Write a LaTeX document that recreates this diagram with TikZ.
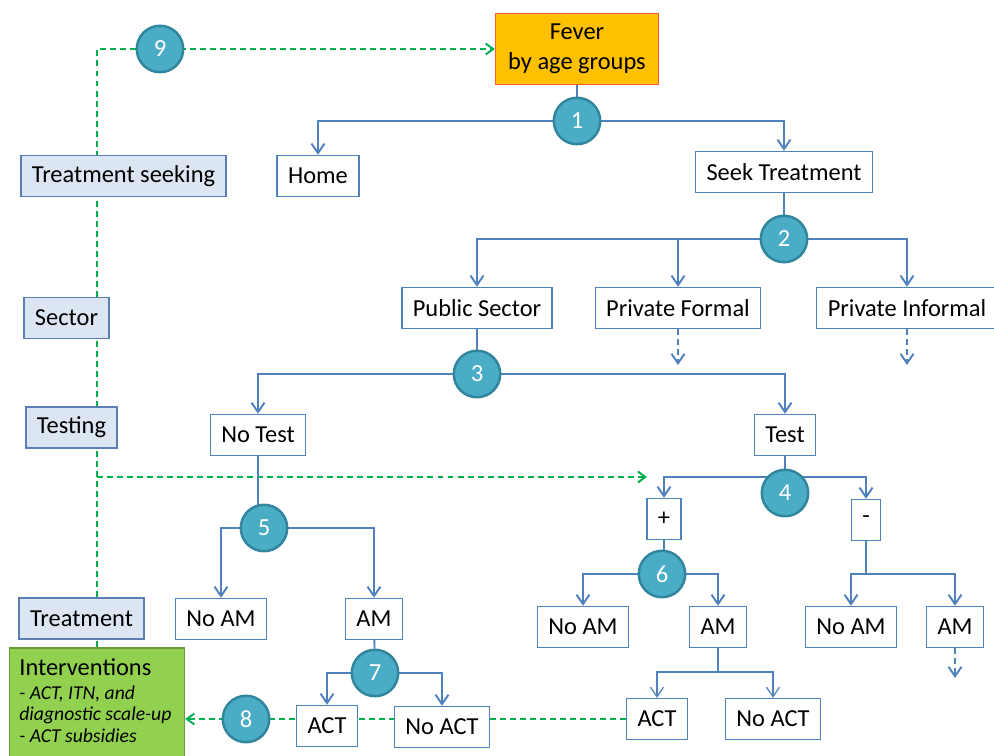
\documentclass[tikz,border=0pt]{standalone}
\usepackage{fontspec}
\setmainfont{Carlito}
\usetikzlibrary{arrows.meta,backgrounds}
\definecolor{LineBlue}{HTML}{4F81BD}
\definecolor{LabelFill}{HTML}{DCE6F2}
\definecolor{LabelEdge}{HTML}{5B7FB5}
\definecolor{NumFill}{HTML}{4BACC6}
\definecolor{NumEdge}{HTML}{31859C}
\definecolor{FeedGreen}{HTML}{00B050}
\definecolor{FeverFill}{HTML}{FFC000}
\definecolor{FeverEdge}{HTML}{FF5B2E}
\definecolor{IntFill}{HTML}{92D050}
\definecolor{IntEdge}{HTML}{6E9A3C}
\tikzset{
  box/.style={draw=LineBlue, line width=0.8pt, fill=white, minimum height=0.82cm,
    inner xsep=0.22cm, font=\fontsize{13.9}{16}\selectfont},
  level/.style={box, draw=LabelEdge, fill=LabelFill},
  num/.style={circle, draw=NumEdge, fill=NumFill, line width=1.4pt, minimum size=0.93cm,
    inner sep=0pt, text=white, font=\fontsize{14}{16}\selectfont},
  link/.style={draw=LineBlue, line width=1.1pt},
  flow/.style={link, -{Straight Barb[length=1.9mm,width=2.6mm]}},
  open/.style={flow, dash pattern=on 3.4pt off 2.3pt},
  feedback/.style={draw=FeedGreen, line width=1.1pt, dash pattern=on 3.4pt off 2.3pt,
    -{Straight Barb[length=1.5mm,width=2.2mm]}}
}
\begin{document}
\begin{tikzpicture}[x=0.02cm, y=-0.02cm]
	\useasboundingbox (0,0) rectangle (994,756);
	\node[box, draw=FeverEdge, fill=FeverFill, align=center, minimum width=3.26cm,
	  minimum height=1.42cm, font=\fontsize{13.9}{17}\selectfont] (fever) at (577,49) {Fever\\by age groups};
	\node[draw=IntEdge, line width=0.8pt, fill=IntFill, minimum width=3.5cm, minimum height=2.84cm] (interv) at (97,719) {};
	\node[anchor=north west, align=left, inner sep=0pt] (interv-text) at (19,658)
	  {{\fontsize{13.9}{13}\selectfont Interventions}\\[2pt]
	   \fontsize{11.2}{13.6}\selectfont\itshape - ACT, ITN, and\\
	   \fontsize{11.2}{13.6}\selectfont\itshape diagnostic scale-up\\
	   \fontsize{11.2}{13.6}\selectfont\itshape - ACT subsidies};
	\foreach \name/\X/\Y/\txt in {ts/123.5/176/Treatment seeking, sec/66.5/318/Sector,
	  tst/71.5/427.5/Testing, trt/81.5/618.5/Treatment}
	{\node[level] (\name) at (\X,\Y) {\txt};}
	\foreach \name/\X/\Y/\txt in {home/318/176/Home, seek/784/172/Seek Treatment,
	  pub/477/308/Public Sector, pform/678/308/Private Formal, pinf/907/308/Private Informal,
	  notest/258/435/No Test, test/785/435/Test, plus/664/519/+, minus/866/520/-,
	  noam1/221/619/No AM, am1/374/619/AM, noam2/583/627/No AM, am2/718/627/AM,
	  noam3/851/627/No AM, am3/955/627/AM, act1/327/726/ACT, noact1/442/727/No ACT,
	  act2/657/719/ACT, noact2/773/719/No ACT}
	{\node[box] (\name) at (\X,\Y) {\txt};}
	\foreach \X/\Y [count=\Z] in {577/121, 784/239, 477/374, 785/493, 264/528, 662/574,
	  375/673, 246/719, 160/49}
	{\node[num] (n\Z) at (\X,\Y) {\Z};}
	\coordinate (j4) at (785,477);
	\coordinate (j6) at (718,672);
	\coordinate (j7) at (866,574);
	\coordinate (pform-end) at (678,365);
	\coordinate (pinf-end) at (907,365);
	\coordinate (am3-end) at (955,678);
	\coordinate (g1) at (97,477);
	\coordinate (g2) at (647,477);
	\begin{scope}[on background layer]
	\draw[feedback] (interv.north) |- (fever.west);
	\draw[feedback] (g1) -- (g2);
	\draw[feedback] (act2) -- (interv);
	\draw[link] (fever) -- (n1);
	\draw[flow] (n1.center) -| (home);
	\draw[flow] (n1.center) -| (seek);
	\draw[link] (seek) -- (n2);
	\draw[flow] (n2.center) -| (pub);
	\draw[flow] (n2.center) -| (pform);
	\draw[flow] (n2.center) -| (pinf);
	\draw[open] (pform) -- (pform-end);
	\draw[open] (pinf) -- (pinf-end);
	\draw[link] (pub) -- (n3);
	\draw[flow] (n3.center) -| (notest);
	\draw[flow] (n3.center) -| (test);
	\draw[link] (test) -- (n4);
	\draw[flow] (j4) -| (plus);
	\draw[flow] (j4) -| (minus);
	\draw[link] (notest) -- (notest |- n5);
	\draw[flow] (n5.center) -| (noam1);
	\draw[flow] (n5.center) -| (am1);
	\draw[link] (plus) -- (plus |- n6);
	\draw[flow] (n6.center) -| (noam2);
	\draw[flow] (n6.center) -| (am2);
	\draw[link] (am2) -- (j6);
	\draw[flow, line width=0.7pt] (j6) -| (act2);
	\draw[flow, line width=0.7pt] (j6) -| (noact2);
	\draw[link] (minus) -- (j7);
	\draw[flow] (j7) -| (noam3);
	\draw[flow] (j7) -| (am3);
	\draw[open] (am3) -- (am3-end);
	\draw[link] (am1) -- (n7);
	\draw[flow] (n7.center) -| (act1);
	\draw[flow] (n7.center) -| (noact1);
	\end{scope}
\end{tikzpicture}
\end{document}
